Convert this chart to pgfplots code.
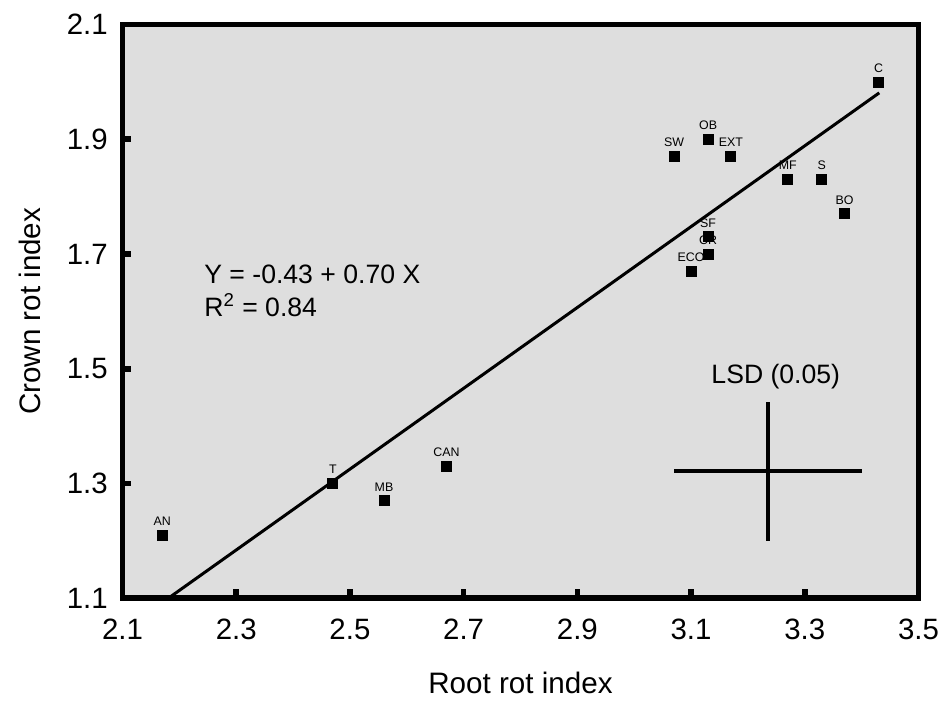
\documentclass[border=0pt]{standalone}
\usepackage{fontspec}
\setmainfont{Liberation Sans}
\usepackage{pgfplots}
\pgfplotsset{compat=1.18}
\definecolor{bgc}{RGB}{222,222,222}

\begin{document}
\begin{tikzpicture}
	\begin{axis}[
		scale only axis,
		width=398pt, height=286.75pt,
		xmin=2.1, xmax=3.5, ymin=1.1, ymax=2.1,
		xtick={2.1,2.3,...,3.5}, ytick={1.1,1.3,...,2.1},
		xtick pos=bottom, ytick pos=left,
		tick align=inside,
		major tick length=4.5pt,
		every tick/.style={black, line width=2.8pt},
		axis line style={line width=2.8pt, line cap=rect},
		axis background/.style={fill=bgc},
		/pgf/number format/.cd, fixed, fixed zerofill, precision=1, assume math mode=true,
		/pgfplots/.cd,
		ticklabel style={font=\fontsize{14.7}{17}\selectfont},
		xticklabel style={yshift=-6.9pt},
		yticklabel style={xshift=-3.85pt},
		xlabel={Root rot index},
		ylabel={Crown rot index},
		label style={font=\fontsize{14.8}{17}\selectfont},
		xlabel style={at={(axis description cs:0.5,-0.166)}, anchor=base},
		ylabel style={at={(axis description cs:-0.1027,0.5)}, anchor=base, rotate=0},
		clip=false,
	]
	% cultivars
	\addplot[only marks, mark=square*, mark size=2.5pt, mark options={fill=black, draw=none},
		nodes near coords, point meta=explicit symbolic,
		every node near coord/.append style={anchor=base, inner sep=0pt, yshift=4.8pt,
			font=\fontsize{6.2}{7}\selectfont}]
		table[meta=lab] {
		x    y    lab
		2.17 1.21 AN
		2.47 1.30 T
		2.56 1.27 MB
		2.67 1.33 CAN
		3.10 1.67 ECO
		3.13 1.70 CR
		3.13 1.73 SF
		3.07 1.87 SW
		3.13 1.90 OB
		3.17 1.87 EXT
		3.27 1.83 MF
		3.33 1.83 S
		3.37 1.77 BO
		3.43 2.00 C
	};
	% regression line
	\addplot[black, line width=1.5pt] coordinates {(2.181,1.1) (3.431,1.981)};
	% LSD cross
	\addplot[black, line width=2pt] coordinates {(3.07,1.321) (3.401,1.321)};
	\addplot[black, line width=2pt] coordinates {(3.236,1.20) (3.236,1.4425)};
	\node[anchor=base west, inner sep=0pt, font=\fontsize{13.3}{16}\selectfont] at (axis cs:2.2433,1.6489) {Y = -0.43 + 0.70 X};
	\node[anchor=base west, inner sep=0pt, font=\fontsize{13.3}{16}\selectfont] at (axis cs:2.2433,1.5907) {R\textsuperscript{2} = 0.84};
	\node[anchor=base, inner sep=0pt, font=\fontsize{13.3}{16}\selectfont] at (axis cs:3.249,1.4745) {LSD (0.05)};
	\end{axis}
	\pgfresetboundingbox
	\path[use as bounding box] (current axis.south west) ++(-61.25pt,-51.95pt) rectangle ++(474pt,351pt);
\end{tikzpicture}
\end{document}
